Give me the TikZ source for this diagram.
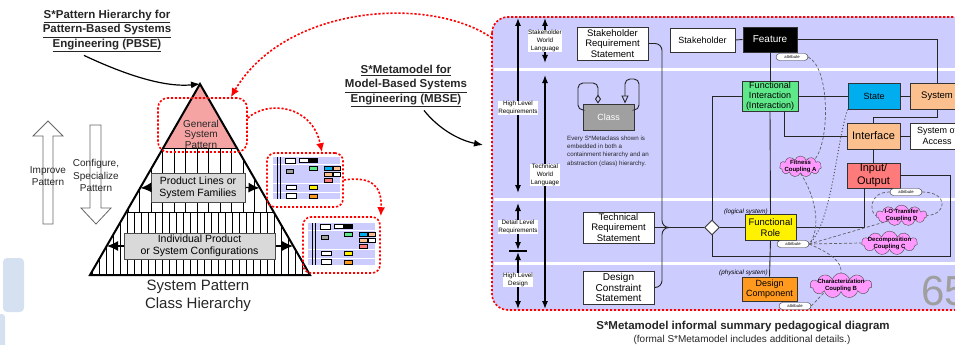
\documentclass[tikz,border=0pt]{standalone}
\usepackage{fontspec}
\setmainfont{Liberation Sans}
\usetikzlibrary{arrows.meta,shapes.geometric,shapes.symbols}
\pgfdeclarelayer{fg}
\pgfsetlayers{main,fg}
\definecolor{lav}{HTML}{CCCCFF}
\definecolor{fgreen}{HTML}{5EE88A}
\definecolor{lorange}{HTML}{FBC08E}
\definecolor{dorange}{HTML}{FF9A1F}
\definecolor{iored}{HTML}{FF7A7A}
\definecolor{cpink}{HTML}{FF99FF}
\definecolor{pinktop}{HTML}{F5A3A3}
\definecolor{classgray}{HTML}{A0A0A0}
\definecolor{boxgray}{HTML}{D9D9D9}
\definecolor{sideblue}{HTML}{D5E0F0}
\newcommand{\fsz}[2]{\fontsize{#1}{#2}\selectfont}
\newcommand{\minidiag}{%
  \fill[lav] (492,17) rectangle (955,310);
  \draw[white, line width=0.6pt] (492,69) -- (955,69) (492,199) -- (955,199) (492,263) -- (955,263);
  \draw[line width=0.3pt] (518,17) -- (518,310) (545,17) -- (545,310);
  \foreach \xa/\ya/\xb/\yb/\cc in {577/27/648/60/white, 670/28/735/52/white, 743/27/797/52/black,
      742/81/798/111/fgreen, 848/83/900/109/cyan, 910/83/955/109/lorange, 847/123/900/149/lorange,
      910/123/955/149/white, 847/163/900/188/iored, 745/215/796/241/yellow, 742/277/797/301/dorange,
      583/212/654/243/white, 583/271/654/304/white, 583/104/634/130/classgray}
    {\filldraw[fill=\cc, draw=black, line width=0.2pt] (\xa,\ya) rectangle (\xb,\yb);}
}
\begin{document}
\begin{tikzpicture}[x=1pt,y=-1pt,
 reddash/.style={draw=red, line width=1.6pt, dash pattern=on 2.2pt off 1.8pt},
 redarr/.style={reddash, -{Latex[length=9,width=8]}},
 conn/.style={draw=black!85, line width=0.9pt},
 mbox/.style={draw=black!80, line width=0.9pt, inner sep=0pt, align=center},
 lbl/.style={fill=white, inner sep=0.6pt, align=center, font=\fsz{6.3}{7.8}},
 pill/.style={draw=black!80, fill=white, rounded corners=3.5pt, minimum width=32, minimum height=7, inner sep=0pt, font=\fsz{4.2}{4.5}},
 cloudn/.style={cloud, cloud puffs=11, cloud ignores aspect, draw=black!70, fill=cpink, inner sep=-2pt, align=center, font=\bfseries\fsz{6}{7}},
 gdash/.style={draw=gray!75!black, line width=0.7pt, dash pattern=on 3pt off 2pt},
 gdot/.style={draw=gray!60!black, line width=1pt, dash pattern=on 1pt off 2.2pt},
 dbl/.style={{Latex[length=8,width=6]}-{Latex[length=8,width=6]}, line width=1.3pt},
 hollow/.style={draw=black!60, fill=white, line width=0.8pt},
 ttl/.style={align=center, font=\bfseries\fsz{11.5}{14.5}, text=black!85},
 tri/.style={-{Latex[length=11,width=10]}, line width=1.2pt},
 gbox/.style={draw=black!70, line width=1pt, fill=boxgray, align=center, inner sep=0pt, font=\fsz{10.5}{12}}
]
\useasboundingbox (0,0) rectangle (955,345);

% ---------- left side ----------
\fill[sideblue, rounded corners=4pt] (3,258) rectangle (24,312);
\fill[sideblue, rounded corners=3pt] (-5,314) rectangle (5,350);

\node[ttl] (pbse) at (107,31) {\underline{S*Pattern Hierarchy for}\\\underline{Pattern-Based Systems}\\\underline{Engineering (PBSE)}};

\coordinate (apex) at (200,84);
\coordinate (bl) at (90,275);
\coordinate (br) at (310,275);
\begin{scope}
  \clip (apex) -- (bl) -- (br) -- cycle;
  \fill[pinktop] (150,80) rectangle (250,148);
  \foreach \x in {128,139.5,...,276} \draw[line width=0.8pt] (\x,148) -- (\x,212);
  \foreach \x in {92,99,...,310} \draw[line width=0.8pt] (\x,212) -- (\x,275);
  \draw[line width=1pt] (90,148) -- (310,148) (90,212) -- (310,212);
\end{scope}
\draw[line width=2pt] (apex) -- (bl) -- (br) -- cycle;

\node[font=\fsz{10}{10.5}, align=center, text=black!85] (gsp) at (201,134) {General\\System\\Pattern};
\node[reddash, rounded corners=10pt, minimum width=89, minimum height=54] (genpat) at (202.5,125) {};

\node[gbox, minimum width=94, minimum height=29] (plsf) at (198,187.5) {Product Lines or\\System Families};
\coordinate (plL) at (140.5,188);
\coordinate (plR) at (259.5,188);
\draw[tri] (plsf.west) -- (plL);
\draw[tri] (plsf.east) -- (plR);

\node[gbox, minimum width=151, minimum height=26] (ipsc) at (199.5,246) {Individual Product\\or System Configurations};
\coordinate (ipL) at (107,246);
\coordinate (ipR) at (293,246);
\draw[tri] (ipsc.west) -- (ipL);
\draw[tri] (ipsc.east) -- (ipR);

\node[font=\fsz{15}{17.5}, align=center, text=black!85] (sph) at (198,296) {System Pattern\\Class Hierarchy};

\draw[hollow] (48,121) -- (63,136) -- (53,136) -- (53,224) -- (43,224) -- (43,136) -- (33,136) -- cycle;
\draw[hollow] (90,125) -- (101,125) -- (101,208) -- (111,208) -- (96,224) -- (81,208) -- (90,208) -- cycle;
\node[font=\fsz{10}{12}, align=center, text=black!85] (imp) at (48,176) {Improve\\Pattern};
\node[font=\fsz{10}{12.5}, align=center, text=black!85] (cfg) at (96,175.5) {Configure,\\Specialize\\Pattern};

\draw[-{Latex[length=9,width=7]}, line width=1.2pt] ([xshift=-23pt]pbse.south) .. controls (115,70) and (160,88) .. (apex);

% thumbnails
\begin{scope}[shift={(202.15,154.55)}, scale=0.144]
  \minidiag
\end{scope}
\begin{scope}[shift={(237.15,220.55)}, scale=0.144]
  \minidiag
\end{scope}
\node[reddash, rounded corners=8pt, minimum width=76, minimum height=54] (th1) at (305,180) {};
\node[reddash, rounded corners=8pt, minimum width=77, minimum height=56] (th2) at (341.5,245) {};

\draw[redarr] ([yshift=7pt]genpat.east) .. controls (268,100) and (312,105) .. ([xshift=17pt]th1.north);
\draw[redarr] (th1.east) .. controls (372,176) and (382,186) .. (th2.north east);

% ---------- right side ----------
\node[ttl] (mbse) at (406,86) {\underline{S*Metamodel for}\\\underline{Model-Based Systems}\\\underline{Engineering (MBSE)}};
\draw[-{Latex[length=9,width=7]}, line width=1.2pt] ([xshift=18pt]mbse.south) .. controls (438,128) and (458,140) .. (483,145);

\draw[reddash, fill=lav, rounded corners=16pt] (492,17) rectangle (990,310);
\coordinate (bigL) at (492,38);
\draw[redarr] (bigL) .. controls (430,-5) and (285,5) .. ([xshift=-17pt]genpat.north east);

\draw[white, line width=3pt] (494,69) -- (955,69) (494,199) -- (955,199) (494,263) -- (955,263);

% left column arrows
\coordinate (a1t) at (518,18);  \coordinate (a1b) at (518,193);
\coordinate (a2t) at (545,18);  \coordinate (a2b) at (545,63);
\coordinate (a3t) at (545,75);  \coordinate (a3b) at (545,309);
\coordinate (a4t) at (518,203); \coordinate (a4b) at (518,250);
\coordinate (a5t) at (518,252); \coordinate (a5b) at (518,309);
\draw[dbl] (a1t) -- (a1b);
\draw[dbl] (a2t) -- (a2b);
\draw[dbl] (a3t) -- (a3b);
\draw[dbl] (a4t) -- (a4b);
\draw[dbl] (a5t) -- (a5b);
\draw[line width=1.3pt] (509,251) -- (527,251);
\node[lbl] (lhlr) at (518,108) {High Level\\Requirements};
\node[lbl] (lswl) at (545,41) {Stakeholder\\World\\Language};
\node[lbl] (ltwl) at (545,175) {Technical\\World\\Language};
\node[lbl] (ldlr) at (518,227) {Detail Level\\Requirements};
\node[lbl] (lhld) at (518,280) {High Level\\Design};

% nodes
\node[mbox, fill=white, minimum width=71, minimum height=33, font=\fsz{9.5}{10.5}] (srs) at (612.5,43.5) {Stakeholder\\Requirement\\Statement};
\node[mbox, fill=white, minimum width=71, minimum height=31, font=\fsz{9.5}{10.5}] (trs) at (618.5,227.5) {Technical\\Requirement\\Statement};
\node[mbox, fill=white, minimum width=71, minimum height=33, font=\fsz{10}{10.8}] (dcs) at (618.5,287.5) {Design\\Constraint\\Statement};
\node[mbox, fill=white, minimum width=65, minimum height=24, font=\fsz{9}{10}] (stk) at (702.5,40) {Stakeholder};
\node[mbox, fill=black, text=white, minimum width=54, minimum height=25, font=\fsz{10}{11}] (feat) at (770,39.5) {Feature};
\node[mbox, fill=fgreen, minimum width=56, minimum height=30, font=\fsz{9}{10}] (fi) at (770,96) {Functional\\Interaction\\(Interaction)};
\node[mbox, fill=cyan, minimum width=52, minimum height=26, font=\fsz{9}{10}] (state) at (874,96) {State};
\node[mbox, fill=lorange, minimum width=54, minimum height=26, font=\fsz{9.5}{10}] (sys) at (937,96) {System};
\node[mbox, fill=lorange, minimum width=53, minimum height=26, font=\fsz{11}{12}] (intf) at (873.5,136) {Interface};
\node[mbox, fill=white, minimum width=54, minimum height=26, font=\fsz{9}{11}] (soa) at (937,136) {System of\\Access};
\node[mbox, fill=iored, minimum width=53, minimum height=25, font=\fsz{11}{13}] (io) at (873.5,175.5) {Input/\\Output};
\node[mbox, fill=yellow, minimum width=51, minimum height=26, font=\fsz{9.5}{11}] (fr) at (770.5,227.5) {Functional\\Role};
\node[mbox, fill=dorange, minimum width=55, minimum height=24, font=\fsz{9}{9.5}] (dc) at (769.5,289) {Design\\Component};
\node[mbox, fill=classgray, text=white, minimum width=51, minimum height=26, font=\fsz{9}{10}] (class) at (608.5,117) {Class};
\node[diamond, draw=black!80, fill=white, line width=0.9pt, minimum width=15, minimum height=15, inner sep=0pt] (dia) at (712,227.5) {};
\coordinate (jn) at (672,227.5);

\node[anchor=north west, align=left, font=\fsz{6.2}{8.4}, inner sep=0pt, text=black!85] (note) at (567,135.5) {Every S*Metaclass shown is\\embedded in both a\\containment hierarchy and an\\abstraction (class) hierarchy.};
\node[anchor=east, font=\itshape\fsz{6.3}{7}, inner sep=0pt] (lsys) at (768,212) {(logical system)};
\node[anchor=east, font=\itshape\fsz{6.3}{7}, inner sep=0pt] (psys) at (768,273) {(physical system)};
\node[anchor=west, font=\fsz{42}{42}, text=gray!75, inner sep=0pt] (num) at (921,291) {65};

% class self loops
\draw[conn, {Diamond[open,length=9,width=6]}-, rounded corners=5pt] ([xshift=-10.5pt]class.north) -- (598,83) -| (578,110) -- ([yshift=7pt]class.west);
\draw[conn, -{Triangle[open,length=8,width=7]}, rounded corners=5pt] ([yshift=7pt]class.east) -| (639,79) -| ([xshift=16.5pt]class.north);

% connectors
\draw[conn, rounded corners=7pt] (srs.east) -| (662,227.5) -- (jn);
\draw[conn, rounded corners=7pt] (dcs.east) -| (662,227.5) -- (jn);
\draw[conn] (trs.east) -- (jn);
\draw[conn] (jn) -- (dia.west);
\draw[conn] (dia.north) |- (fi.west);
\draw[conn] (dia.east) -- (fr.west);
\coordinate (cr) at (950,256);
\draw[conn] (dia.south) |- (cr) |- (io.east);
\draw[conn] (stk.east) -- (feat.west);
\draw[conn] (feat.east) -| (sys.north);
\draw[conn] (feat.south) -- (fi.north);
\draw[conn] (fi.east) -- (state.west);
\draw[conn] (state.east) -- (sys.west);
\draw[conn] (sys.south) -- ++(0,8) -| (intf.north);
\draw[conn] (intf.east) -- (soa.west);
\draw[conn] (intf.west) -| ([xshift=14pt]fi.south);
\draw[conn] (fi.south) -- (fr.north);
\draw[conn] (intf.south) -- (io.north);
\draw[conn] (fr.east) -| ([xshift=-9.5pt]io.south);
\draw[conn] (fr.south) -- (dc.north);

% pills and clouds (on top layer)
\begin{pgfonlayer}{fg}
\node[pill] (attF) at (792,57) {attribute};
\node[pill] (attIO) at (906,192) {attribute};
\node[pill] (attFR) at (793,244) {attribute};
\node[pill] (attDC) at (795,306) {attribute};
\node[cloudn, minimum width=42, minimum height=21] (cA) at (800.5,166.5) {Fitness\\Coupling A};
\node[cloudn, minimum width=51, minimum height=18] (cD) at (901.5,215.5) {I-O Transfer\\Coupling D};
\node[cloudn, minimum width=54, minimum height=19] (cC) at (889.5,243) {Decomposition\\Coupling C};
\node[cloudn, minimum width=62, minimum height=25] (cB) at (841,285.5) {Characterization\\Coupling B};
\end{pgfonlayer}

\draw[gdash] (attF.east) .. controls (830,68) and (830,140) .. (cA.north east);
\draw[gdash] (cA.south) .. controls (815,195) and (822,228) .. (attFR.east);
\draw[gdot] (state.south west) .. controls (836,145) and (832,222) .. (attFR.east);
\draw[gdash] (attFR.east) -- (cC.west);
\draw[gdash] (attFR.east) -- (cD.south west);
\draw[gdash] (attFR.east) .. controls (832,254) and (842,262) .. (cB.north);
\draw[gdash] (attDC.east) -- (cB.south west);
\draw[gdash] (attIO.west) .. controls (868,192) and (870,213) .. (cD.west);
\draw[gdash] (attIO.east) .. controls (948,192) and (948,214) .. (cD.east);

% caption
\node[font=\bfseries\fsz{11.5}{13}, text=black!85] (cap1) at (743,327) {S*Metamodel informal summary pedagogical diagram};
\node[font=\fsz{10}{11}, text=black!85] (cap2) at (742,340) {(formal S*Metamodel includes additional details.)};
\end{tikzpicture}
\end{document}
